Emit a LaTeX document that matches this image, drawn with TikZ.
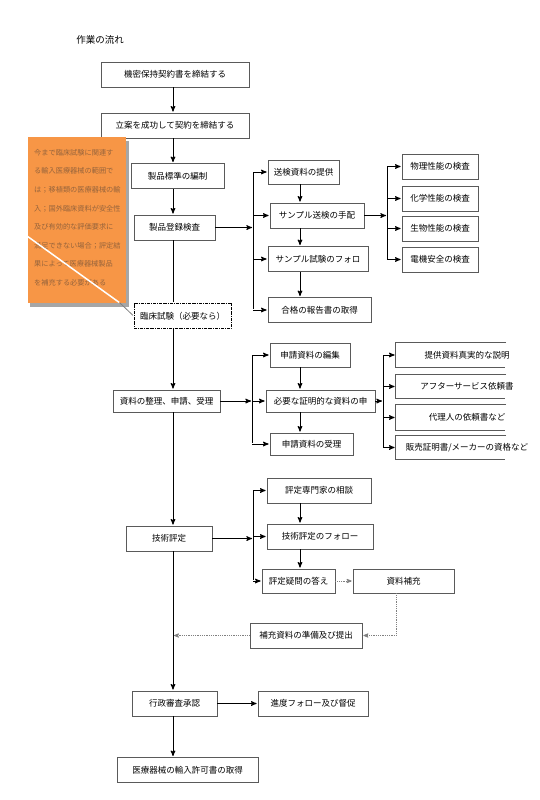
\documentclass[tikz,border=0pt]{standalone}
\usepackage{fontspec}
\setmainfont{Noto Sans CJK JP}
\usetikzlibrary{arrows,shapes,calc,positioning}
\definecolor{notefill}{RGB}{247,150,70}
\definecolor{notetext}{RGB}{150,100,60}
\definecolor{boxline}{RGB}{90,90,90}
\tikzset{
    >=stealth',
    shorten >=1pt,
    flowbox/.style={draw=boxline, line width=0.8pt, fill=white, inner sep=0pt,
        minimum height=25pt, font=\fontsize{8.5}{10}\selectfont},
    flow/.style={->, line width=1pt},
    dotflow/.style={->, densely dotted, draw=gray, line width=0.8pt},
}

\begin{document}
\begin{tikzpicture}[x=1pt, y=-1pt]
    \useasboundingbox (0,0) rectangle (539,800);

    \node[font=\fontsize{9.5}{10}\selectfont] (title) at (100,40) {作業の流れ};

    % main column
    \node[flowbox, minimum width=148pt] (N) at (175,74.5) {機密保持契約書を締結する};
    \node[flowbox, minimum width=148pt] (P) at (175,125.5) {立案を成功して契約を締結する};
    \node[flowbox, minimum width=93pt] (S) at (177.5,176) {製品標準の編制};
    \node[flowbox, minimum width=81pt] (R) at (174.5,227.5) {製品登録検査};
    \node[flowbox, minimum width=97pt, densely dashdotted, draw=black] (K) at (182.5,316) {臨床試験（必要なら）};
    \node[flowbox, minimum width=107pt, minimum height=22pt] (D) at (166.5,401) {資料の整理、申請、受理};
    \node[flowbox, minimum width=86pt] (T) at (169,538.5) {技術評定};
    \node[flowbox, minimum width=85pt] (A) at (174.5,703.5) {行政審査承認};
    \node[flowbox, minimum width=141pt] (L) at (187.5,770) {医療器械の輸入許可書の取得};

    % sample testing
    \node[flowbox, minimum width=71pt, minimum height=24pt] (R1) at (303.5,172) {送検資料の提供};
    \node[flowbox, minimum width=94pt] (R2) at (317,215.5) {サンプル送検の手配};
    \node[flowbox, minimum width=100pt] (R3) at (318,259) {サンプル試験のフォロ};
    \node[flowbox, minimum width=103pt] (R4) at (319.5,310) {合格の報告書の取得};
    \node[flowbox, minimum width=76pt] (Q1) at (440,166.5) {物理性能の検査};
    \node[flowbox, minimum width=76pt] (Q2) at (440,198.5) {化学性能の検査};
    \node[flowbox, minimum width=76pt] (Q3) at (440,228.5) {生物性能の検査};
    \node[flowbox, minimum width=76pt] (Q4) at (440,259.5) {電機安全の検査};

    % application
    \node[flowbox, minimum width=80pt, minimum height=24pt] (D1) at (310,355) {申請資料の編集};
    \node[flowbox, minimum width=109pt, minimum height=22pt] (D2) at (320.5,401) {必要な証明的な資料の申};
    \node[flowbox, minimum width=83pt, minimum height=22pt] (D3) at (311.5,444) {申請資料の受理};
    \node[flowbox, draw=none, fill=none, minimum width=142pt, minimum height=24pt] (E1) at (467,355) {提供資料真実的な説明};
    \node[flowbox, draw=none, fill=none, minimum width=142pt, minimum height=23pt] (E2) at (467,386.5) {アフターサービス依頼書};
    \node[flowbox, draw=none, fill=none, minimum width=142pt] (E3) at (467,417.5) {代理人の依頼書など};
    \node[flowbox, draw=none, fill=none, minimum width=142pt, minimum height=23pt] (E4) at (467,447.5) {販売証明書/メーカーの資格など};
    \foreach \n in {E1,E2,E3,E4}
        \draw[boxline, line width=0.8pt] (506,0 |- \n.north) -- (\n.north west) -- (\n.south west) -- (506,0 |- \n.south);

    % technical evaluation
    \node[flowbox, minimum width=104pt] (T1) at (319,490.5) {評定専門家の相談};
    \node[flowbox, minimum width=106pt] (T2) at (320,536.5) {技術評定のフォロー};
    \node[flowbox, minimum width=73pt, minimum height=24pt] (T3) at (298.5,581) {評定疑問の答え};
    \node[flowbox, minimum width=101pt, minimum height=24pt] (T4) at (403.5,581) {資料補充};
    \node[flowbox, minimum width=112pt] (T5) at (306,635.5) {補充資料の準備及び提出};
    \node[flowbox, minimum width=110pt] (F) at (313,703.5) {進度フォロー及び督促};

    % spine and buses
    \coordinate (spine) at (173,0);
    \coordinate (b1) at (253,0);
    \coordinate (b2) at (387,0);
    \coordinate (b3) at (252,0);
    \coordinate (b4) at (383,0);
    \coordinate (b5) at (253,0);
    \coordinate (mid) at (300,0);

    \foreach \a/\b in {N/P, P/S, S/R, K/D, D/T, T/A, A/L}
        \draw[flow] (spine |- \a.south) -- (spine |- \b.north);
    \draw[line width=1pt] (spine |- R.south) -- (spine |- K.north);

    \draw[flow] (R.east) -- (b1 |- R.east);
    \draw[line width=1pt] (b1 |- R1.west) -- (b1 |- R4.west);
    \foreach \n in {R1,R2,R3,R4}
        \draw[flow] (b1 |- \n.west) -- (\n.west);
    \foreach \a/\b in {R1/R2, R2/R3, R3/R4}
        \draw[flow] (mid |- \a.south) -- (mid |- \b.north);
    \draw[flow] (R2.east) -- (b2 |- R2.east);
    \draw[line width=1pt] (b2 |- Q1.west) -- (b2 |- Q4.west);
    \foreach \n in {Q1,Q2,Q3,Q4}
        \draw[flow] (b2 |- \n.west) -- (\n.west);

    \draw[flow] (D.east) -- (b3 |- D.east);
    \draw[line width=1pt] (b3 |- D1.west) -- (b3 |- D3.west);
    \foreach \n in {D1,D2,D3}
        \draw[flow] (b3 |- \n.west) -- (\n.west);
    \foreach \a/\b in {D1/D2, D2/D3}
        \draw[flow] (mid |- \a.south) -- (mid |- \b.north);
    \draw[flow] (D2.east) -- (b4 |- D2.east);
    \draw[line width=1pt] (b4 |- E1.west) -- (b4 |- E4.west);
    \foreach \n in {E1,E2,E3,E4}
        \draw[flow] (b4 |- \n.west) -- (\n.west);

    \draw[flow] (T.east) -- (b5 |- T.east);
    \draw[line width=1pt] (b5 |- T1.west) -- (b5 |- T3.west);
    \foreach \n in {T1,T2,T3}
        \draw[flow] (b5 |- \n.west) -- (\n.west);
    \foreach \a/\b in {T1/T2, T2/T3}
        \draw[flow] (mid |- \a.south) -- (mid |- \b.north);
    \draw[dotflow] (T3.east) -- (T4.west);
    \draw[dotflow] (396,0 |- T4.south) -- (396,0 |- T5.east) -- (T5.east);
    \draw[dotflow] (T5.west) -- (spine |- T5.west);

    \draw[flow] (A.east) -- (F.west);

    % note box
    \fill[gray!70] (30,141) rectangle (129,307);
    \fill[notefill] (28,137) rectangle (126,303);
    \node[text=notetext, align=left, anchor=north west, inner sep=0pt,
        font=\fontsize{7.2}{18.6}\selectfont] (M) at (34,149)
        {今まで臨床試験に関連す\\る輸入医療器械の範囲で\\は；移植類の医療器械の輸\\入；国外臨床資料が安全性\\及び有効的な評価要求に\\満足できない場合；評定結\\果によって医療器械製品\\を補充する必要がある};
    \draw[white, line width=1.5pt] (27,236) -- (120,303);
    \draw[gray, line width=0.8pt] (120,303) -- (K.west);
\end{tikzpicture}
\end{document}
